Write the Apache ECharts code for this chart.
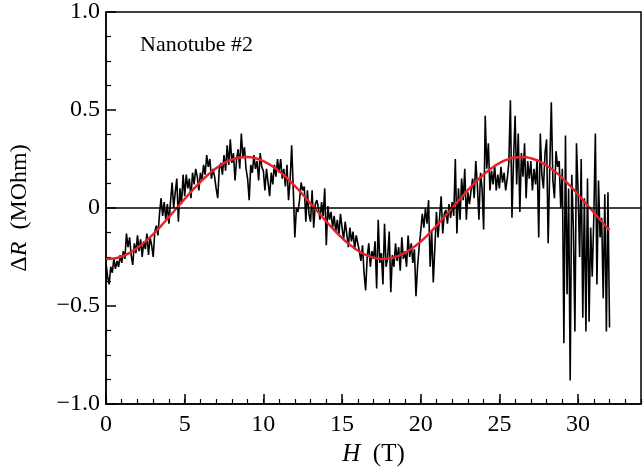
<!DOCTYPE html>
<html>
<head>
<meta charset="utf-8">
<script src="https://cdn.jsdelivr.net/npm/echarts@6/dist/echarts.min.js"></script>
<style>
  html, body { margin: 0; padding: 0; background: #fff; }
  #chart { width: 643px; height: 475px; }
</style>
</head>
<body>
<div id="chart"></div>
<script>
// Measured magnetoresistance, sampled every 0.1 T from 0 to 32 T (MOhm)
const H_STEP = 0.1;
const dRMeasured = [
  -0.28, -0.35, -0.39, -0.30, -0.33, -0.26, -0.31, -0.27, -0.30, -0.24,
  -0.28, -0.22, -0.26, -0.13, -0.20, -0.15, -0.24, -0.29, -0.18, -0.23,
  -0.14, -0.22, -0.16, -0.25, -0.17, -0.21, -0.13, -0.24, -0.15, -0.19,
  -0.25, -0.12, -0.09, -0.14, -0.03, 0.05, -0.04, 0.03, -0.06, 0.02,
  -0.08, 0.03, 0.13, 0.00, 0.08, 0.15, -0.07, 0.10, 0.02, 0.17,
  0.06, 0.17, 0.10, 0.15, 0.05, 0.18, 0.12, 0.20, 0.16, 0.09,
  0.18, 0.14, 0.22, 0.17, 0.27, 0.21, 0.25, 0.15, 0.20, 0.16,
  0.10, 0.05, 0.20, 0.23, 0.17, 0.27, 0.19, 0.32, 0.22, 0.35,
  0.23, 0.28, 0.14, 0.25, 0.30, 0.20, 0.38, 0.26, 0.31, 0.20,
  0.15, 0.04, 0.22, 0.18, 0.27, 0.20, 0.24, 0.14, 0.28, 0.21,
  0.19, 0.09, 0.20, 0.13, 0.06, 0.18, 0.12, 0.22, 0.16, 0.25,
  0.18, 0.25, 0.15, 0.20, 0.11, 0.22, 0.04, 0.14, 0.32, 0.10,
  -0.15, 0.00, -0.02, 0.04, 0.13, 0.09, 0.11, -0.07, 0.09, -0.03,
  -0.07, 0.09, -0.10, 0.02, 0.04, 0.00, -0.06, 0.03, -0.04, 0.10,
  -0.19, 0.01, -0.06, -0.02, -0.10, -0.04, -0.12, -0.06, -0.14, -0.03,
  -0.10, -0.16, -0.07, -0.13, -0.20, -0.10, -0.17, -0.12, -0.21, -0.14,
  -0.18, -0.22, -0.27, -0.19, -0.33, -0.42, -0.25, -0.18, -0.30, -0.22,
  -0.26, -0.17, -0.41, -0.06, -0.28, -0.23, -0.39, -0.08, -0.30, -0.25,
  -0.12, -0.43, -0.24, -0.30, -0.18, -0.27, -0.20, -0.32, -0.15, -0.26,
  -0.22, -0.30, -0.14, -0.25, -0.18, -0.28, -0.21, -0.45, -0.30, -0.20,
  -0.12, -0.03, -0.10, 0.00, -0.08, 0.04, -0.30, -0.12, -0.38, -0.20,
  -0.02, -0.15, -0.05, 0.06, -0.13, -0.03, -0.01, -0.08, 0.02, -0.05,
  0.03, -0.04, 0.25, -0.13, 0.10, -0.06, 0.15, 0.04, 0.20, -0.06,
  0.08, 0.02, 0.09, 0.15, 0.05, 0.24, 0.12, -0.06, 0.18, 0.10,
  -0.11, 0.47, 0.20, 0.33, 0.09, 0.19, 0.12, 0.22, 0.09, 0.17,
  0.10, 0.21, 0.13, 0.18, 0.09, 0.15, 0.23, 0.55, -0.05, 0.25,
  0.47, 0.12, 0.38, -0.02, 0.28, 0.16, 0.33, 0.05, 0.24, 0.15,
  0.24, 0.09, 0.20, 0.12, 0.25, -0.15, 0.38, 0.17, 0.10, 0.28,
  0.35, -0.18, 0.20, 0.54, 0.14, 0.05, 0.29, 0.21, 0.24, 0.00,
  0.20, -0.69, 0.37, -0.44, 0.10, -0.88, 0.17, -0.10, -0.63, 0.33,
  0.09, -0.25, 0.25, -0.56, 0.05, -0.63, 0.15, -0.58, -0.10, -0.35,
  -0.05, 0.38, -0.39, 0.14, -0.15, -0.05, -0.46, 0.07, -0.63, 0.08,
  -0.61
];

// Red fitted curve, read every 0.5 T
const FIT_STEP = 0.5;
const dRFit = [
  -0.260, -0.258, -0.247, -0.229, -0.203, -0.171, -0.133, -0.091, -0.046, 0.000,
  0.046, 0.091, 0.133, 0.171, 0.203, 0.229, 0.247, 0.258, 0.260, 0.254,
  0.239, 0.217, 0.188, 0.153, 0.113, 0.069, 0.023, -0.023, -0.069, -0.113,
  -0.153, -0.188, -0.217, -0.239, -0.254, -0.260, -0.258, -0.247, -0.229, -0.203,
  -0.171, -0.133, -0.091, -0.046, 0.000, 0.046, 0.091, 0.133, 0.171, 0.203,
  0.229, 0.247, 0.258, 0.260, 0.254, 0.239, 0.217, 0.188, 0.153, 0.113,
  0.069, 0.023, -0.023, -0.069, -0.113
];

const xTicks = [0, 5, 10, 15, 20, 25, 30];
const yTicks = [-1.0, -0.5, 0, 0.5, 1.0];
const panelLabel = 'Nanotube #2';

const FONT = '"Liberation Serif", "DejaVu Serif", serif';

function fmtY(v) {
  if (Math.abs(v) < 1e-9) return '0';
  const s = Math.abs(v).toFixed(1);
  return v < 0 ? '\u2212' + s : s;
}

const chart = echarts.init(document.getElementById('chart'), null, { renderer: 'canvas' });

const measured = dRMeasured.map((v, i) => [+(i * H_STEP).toFixed(1), v]);
const fit = dRFit.map((v, i) => [+(i * FIT_STEP).toFixed(1), v]);

chart.setOption({
  backgroundColor: '#fff',
  animation: false,
  grid: {
    left: 105, right: 2, top: 11, bottom: 71,
    show: true, borderColor: '#000', borderWidth: 1.5, backgroundColor: 'transparent'
  },
  graphic: [{
    type: 'text',
    left: 140, top: 34,
    style: { text: panelLabel, font: '22px ' + FONT, fill: '#000' }
  }],
  xAxis: [
    {
      type: 'value', min: 0, max: 34, interval: 5, position: 'bottom',
      axisLine: { show: true, onZero: false, lineStyle: { color: '#000', width: 1.5 } },
      axisTick: { inside: true, length: 10, lineStyle: { color: '#000', width: 1.5 } },
      axisLabel: {
        color: '#000', fontFamily: FONT, fontSize: 24, margin: 9, showMaxLabel: false,
        formatter: (v) => xTicks.includes(v) ? String(v) : ''
      },
      splitLine: { show: false },
      name: '{i|H}  (T)', nameLocation: 'middle', nameGap: 38,
      nameTextStyle: {
        color: '#000', fontFamily: FONT, fontSize: 25,
        rich: { i: { fontStyle: 'italic', fontFamily: FONT, fontSize: 25, color: '#000' } }
      }
    },
    {
      type: 'value', min: 0, max: 34, interval: 1, position: 'bottom',
      axisLine: { show: false, onZero: false },
      axisTick: { inside: true, length: 5, lineStyle: { color: '#000', width: 1.2 } },
      axisLabel: { show: false },
      splitLine: { show: false }
    }
  ],
  yAxis: {
    type: 'value', min: -1, max: 1, interval: 0.5,
    axisLine: { show: true, onZero: false, lineStyle: { color: '#000', width: 1.5 } },
    axisTick: { inside: true, length: 10, lineStyle: { color: '#000', width: 1.5 } },
    minorTick: { show: true, splitNumber: 4, length: 5, lineStyle: { color: '#000', width: 1.2 } },
    axisLabel: {
      color: '#000', fontFamily: FONT, fontSize: 24, margin: 6,
      formatter: (v) => yTicks.some((t) => Math.abs(t - v) < 1e-9) ? fmtY(v) : ''
    },
    splitLine: { show: false },
    name: '\u0394{i|R}  (MOhm)', nameLocation: 'middle', nameGap: 74, nameRotate: 90,
    nameTextStyle: {
      color: '#000', fontFamily: FONT, fontSize: 24,
      rich: { i: { fontStyle: 'italic', fontFamily: FONT, fontSize: 24, color: '#000' } }
    }
  },
  series: [
    {
      name: 'measured', type: 'line', data: measured, xAxisIndex: 0,
      showSymbol: false, smooth: false,
      lineStyle: { color: '#000', width: 1.6 },
      markLine: {
        silent: true, symbol: 'none', label: { show: false },
        lineStyle: { color: '#000', width: 1.5, type: 'solid' },
        data: [{ yAxis: 0 }]
      },
      z: 2
    },
    {
      name: 'fit', type: 'line', data: fit, xAxisIndex: 0,
      showSymbol: false, smooth: true,
      lineStyle: { color: '#e8222b', width: 2.4 },
      z: 3
    }
  ]
});
</script>
</body>
</html>
